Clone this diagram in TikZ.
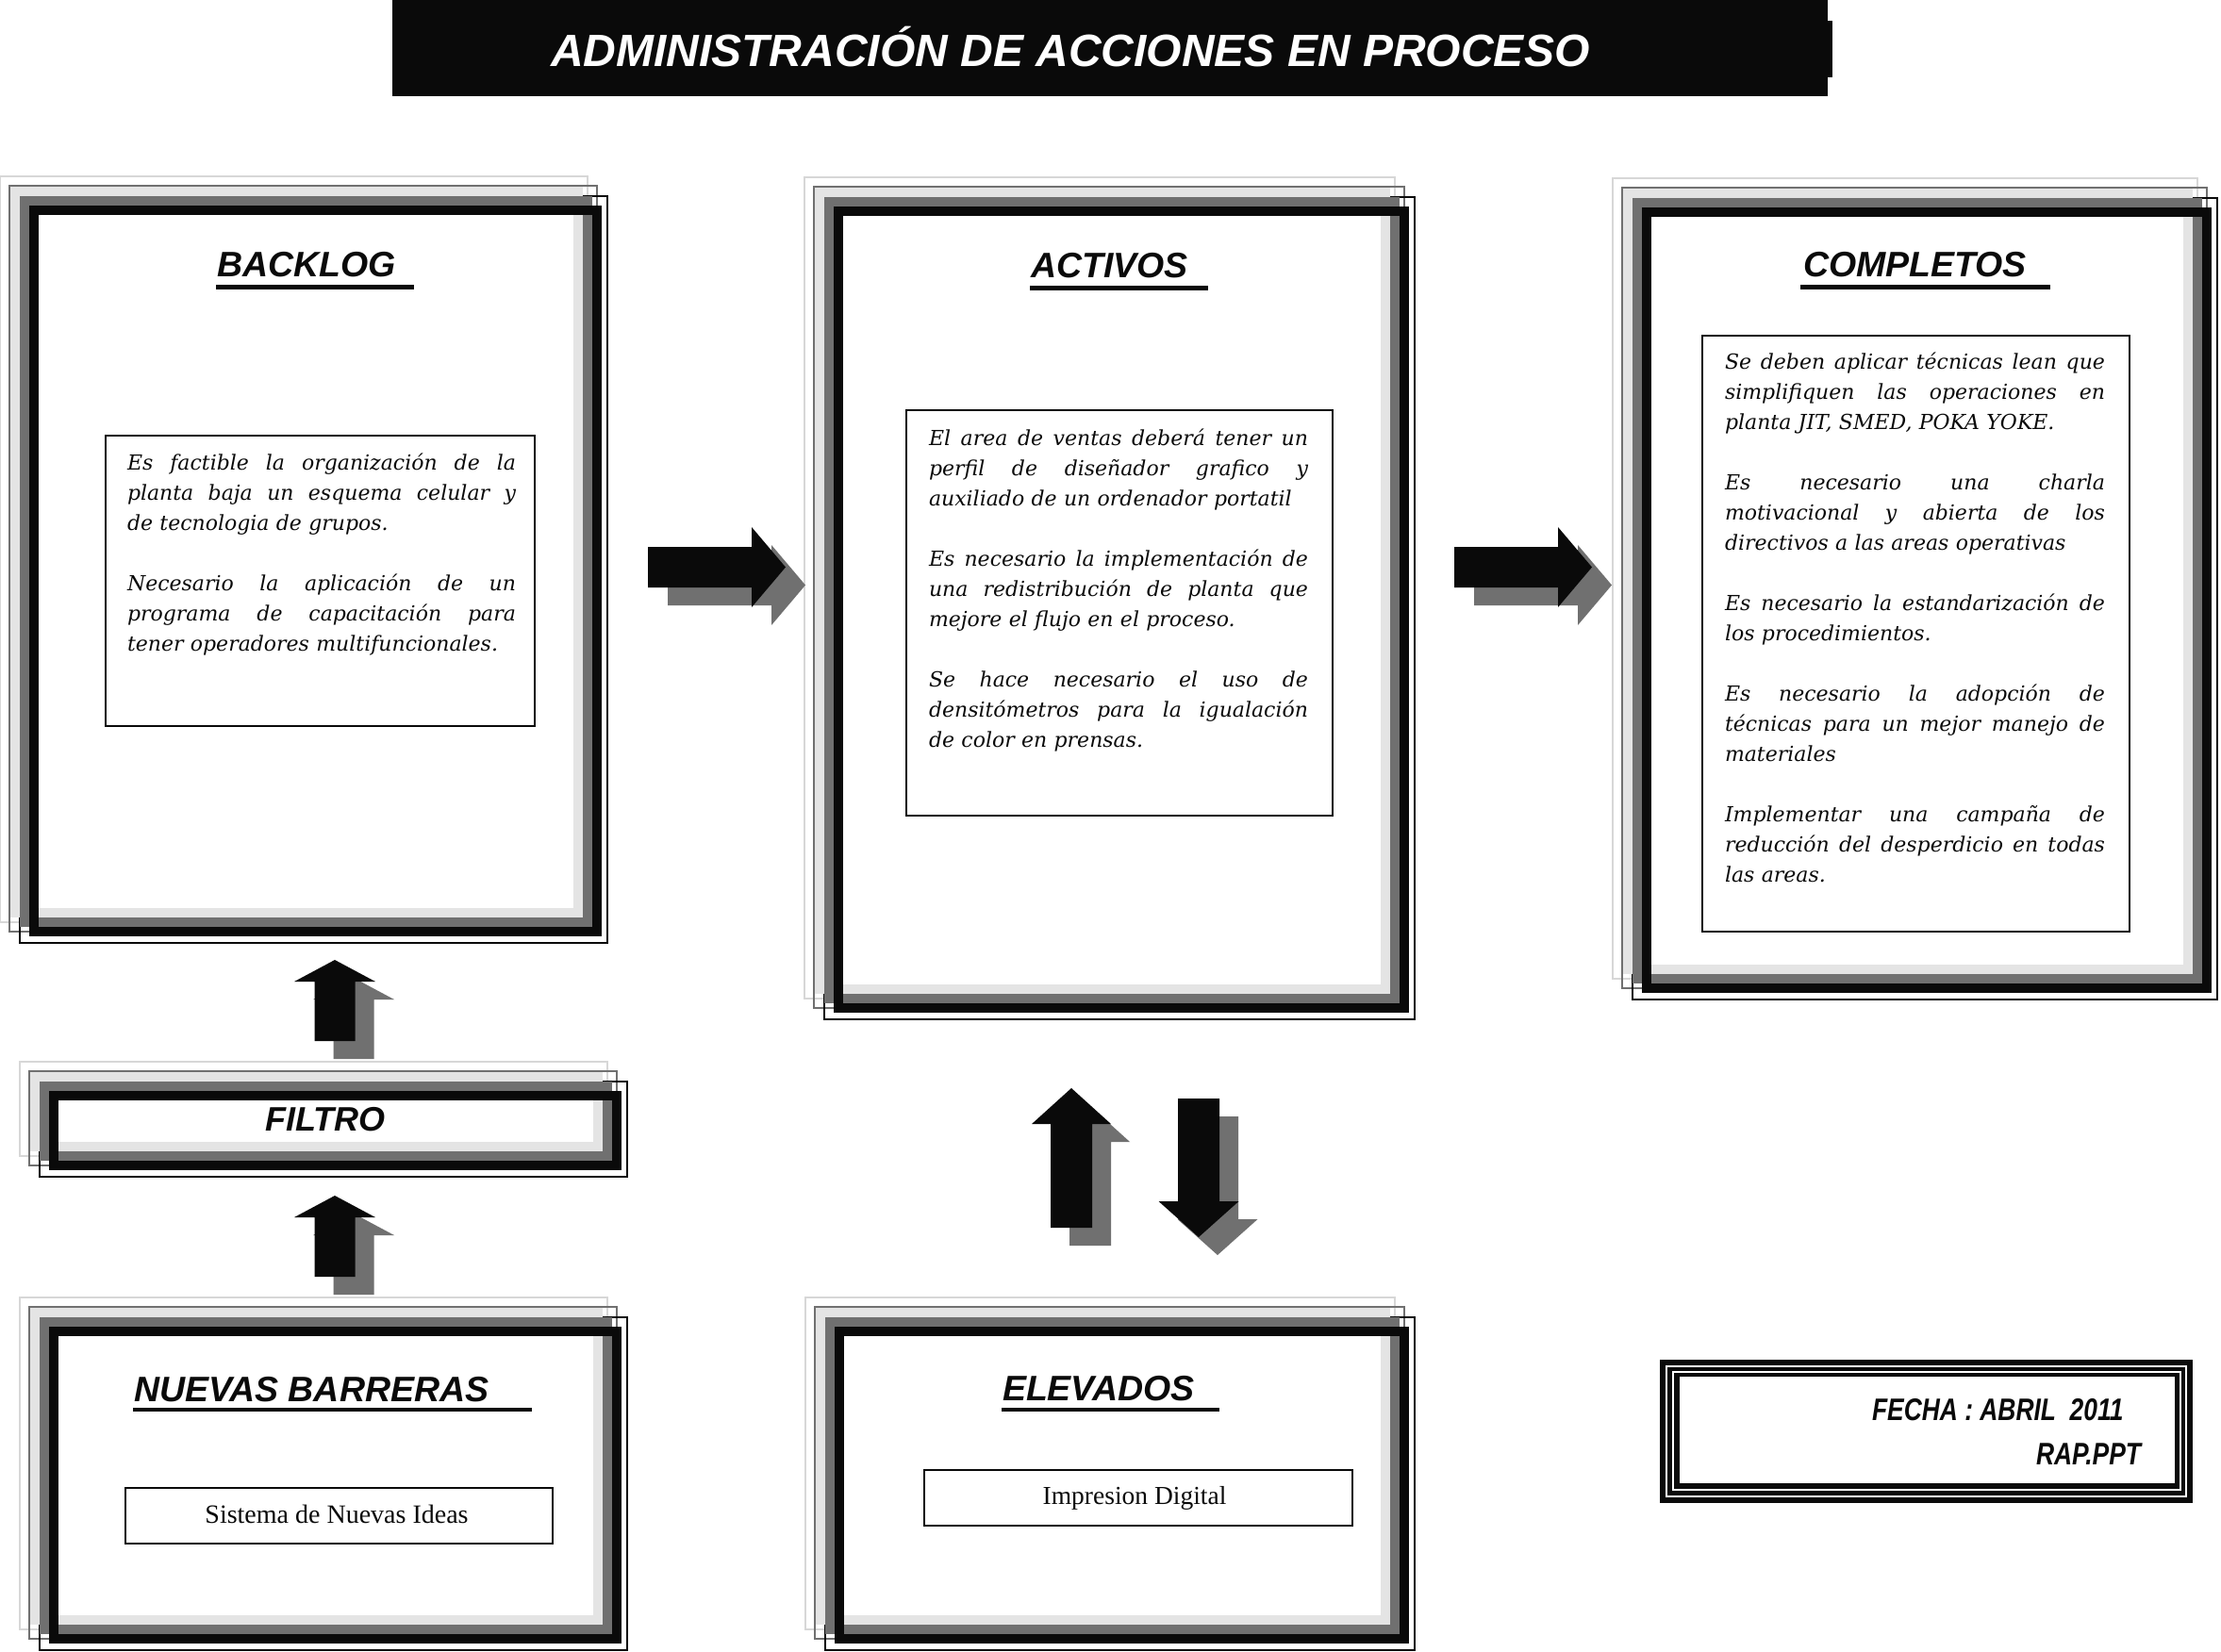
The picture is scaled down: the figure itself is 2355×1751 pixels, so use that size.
\documentclass[tikz,border=0pt]{standalone}
\usepackage{fontspec}
\setmainfont{Liberation Sans}
\newfontfamily\hdfont{Liberation Sans}
\newfontfamily\bodyfont{DejaVu Serif}
\newfontfamily\plainserif{Liberation Serif}
\newfontfamily\narrowfont[FakeStretch=0.8]{Liberation Sans}
\definecolor{kcol}{RGB}{10,10,10}
\definecolor{gcol}{RGB}{112,112,112}
\definecolor{lgcol}{RGB}{228,228,228}
\definecolor{lgline}{RGB}{215,215,215}

\newlength\jlw
\newcommand\jl[1]{\leavevmode\hbox to \jlw{\spaceskip=0.3em plus 1fil\xspaceskip=0.3em plus 1fil\relax #1}}

% three stacked shadow frames: x y W H (top-left of the back outline)
\newcommand\tripleframe[4]{%
 \begin{scope}[shift={(#1,#2)}]
  \draw[lgline, line width=1.5pt] (0,0) rectangle ({#3},{#4});
  \draw[gcol, line width=1.5pt] (10,10) rectangle ({#3+10},{#4+10});
  \draw[kcol, line width=2pt] (21,21) rectangle ({#3+21},{#4+22});
  \draw[lgcol, line width=10pt] (16,16) rectangle ({#3-10},{#4-10});
  \draw[gcol, line width=10pt] (26,26) rectangle ({#3},{#4});
  \draw[kcol, line width=10pt] (36,36) rectangle ({#3+10},{#4+10});
 \end{scope}}

% horizontal block arrow with shadow: x, top of shaft
\newcommand\hblock[2]{%
  \fill[gcol] ({#1+21},{#2+19}) -- ++(110,0) -- ++(0,-21) -- ++(36,42.5) -- ++(-36,42.5) -- ++(0,-21) -- ++(-110,0) -- cycle;
  \fill[kcol] (#1,#2) -- ++(110,0) -- ++(0,-21) -- ++(36,42.5) -- ++(-36,42.5) -- ++(0,-21) -- ++(-110,0) -- cycle;}

% vertical block arrow with shadow: cx, tip y, head base y, head half width, shaft half width, shaft end y
\newcommand\vblock[6]{%
  \fill[gcol, shift={(20,19)}] (#1,#2) -- ({#1+#4},#3) -- ({#1+#5},#3) -- ({#1+#5},#6) -- ({#1-#5},#6) -- ({#1-#5},#3) -- ({#1-#4},#3) -- cycle;
  \fill[kcol] (#1,#2) -- ({#1+#4},#3) -- ({#1+#5},#3) -- ({#1+#5},#6) -- ({#1-#5},#6) -- ({#1-#5},#3) -- ({#1-#4},#3) -- cycle;}

\tikzset{
  every node/.style={inner sep=0pt, outer sep=0pt},
  headtxt/.style={font=\hdfont\fontsize{37.5}{40}\selectfont\bfseries\itshape, text=kcol, anchor=base west},
  bodytxt/.style={font=\bodyfont\fontsize{22}{32}\selectfont\itshape, text=kcol, align=left, anchor=base west},
  innerbox/.style={draw=kcol, line width=2pt, anchor=north west},
  plaintxt/.style={font=\plainserif\fontsize{27.5}{30}\selectfont, text=kcol, anchor=base},
  uline/.style={draw=kcol, line width=5pt},
  fechatxt/.style={font=\narrowfont\fontsize{33}{36}\selectfont\bfseries\itshape, text=kcol},
}

\begin{document}
\begin{tikzpicture}[x=1pt,y=-1pt]
\useasboundingbox (0,0) rectangle (2355,1751);
\fill[white] (0,0) rectangle (2355,1751);

% title bar
\node[fill=kcol, anchor=north west, minimum width=1522pt, minimum height=102pt] (titlebar) at (416,0) {};
\fill[kcol] (1937,22) rectangle (1943,82);
\node[font=\hdfont\fontsize{48}{52}\selectfont\bfseries\itshape, text=white, anchor=base west] (title) at (584,70) {ADMINISTRACIÓN DE ACCIONES EN PROCESO};

% frames
\tripleframe{0}{187}{623}{791}
\tripleframe{853}{188}{626}{871}
\tripleframe{1710}{189}{620}{849}
\tripleframe{21}{1126}{623}{100}
\tripleframe{21}{1376}{623}{352}
\tripleframe{854}{1376}{625}{352}

% headings
\node[headtxt] (bl-title) at (230,293) {BACKLOG};
\draw[uline] (229,304) -- (439,304);
\node[headtxt] (ac-title) at (1093,294) {ACTIVOS};
\draw[uline] (1092,305) -- (1281,305);
\node[headtxt] (co-title) at (1912,293) {COMPLETOS};
\draw[uline] (1909,304) -- (2174,304);
\node[headtxt, font=\hdfont\fontsize{36}{38}\selectfont\bfseries\itshape, anchor=base] (fi-title) at (345,1199) {FILTRO};
\node[headtxt] (nb-title) at (142,1486) {NUEVAS BARRERAS};
\draw[uline, line width=4pt] (141,1495) -- (564,1495);
\node[headtxt] (el-title) at (1063,1485) {ELEVADOS};
\draw[uline, line width=4pt] (1062,1495) -- (1293,1495);

% inner boxes
\node[innerbox, minimum width=455pt, minimum height=308pt] (bl-box) at (112,462) {};
\node[innerbox, minimum width=452pt, minimum height=430pt] (ac-box) at (961,435) {};
\node[innerbox, minimum width=453pt, minimum height=632pt] (co-box) at (1805,356) {};
\node[innerbox, minimum width=453pt, minimum height=59pt] (nb-box) at (133,1578) {};
\node[innerbox, minimum width=454pt, minimum height=59pt] (el-box) at (980,1559) {};

% texts
\node[bodytxt, text width=412pt] (bl-text) at (135,498) {\setlength\jlw{412pt}%
\jl{Es factible la organización de la}\\
\jl{planta baja un esquema celular y}\\
de tecnologia de grupos.\\[32pt]
\jl{Necesario la aplicación de un}\\
\jl{programa de capacitación para}\\
tener operadores multifuncionales.};

\node[bodytxt, text width=402pt] (ac-text) at (985,472) {\setlength\jlw{402pt}%
\jl{El area de ventas deberá tener un}\\
\jl{perfil de diseñador grafico y}\\
auxiliado de un ordenador portatil\\[32pt]
\jl{Es necesario la implementación de}\\
\jl{una redistribución de planta que}\\
mejore el flujo en el proceso.\\[32pt]
\jl{Se hace necesario el uso de}\\
\jl{densitómetros para la igualación}\\
de color en prensas.};

\node[bodytxt, text width=403pt] (co-text) at (1829,391) {\setlength\jlw{403pt}%
\jl{Se deben aplicar técnicas lean que}\\
\jl{simplifiquen las operaciones en}\\
planta JIT, SMED, POKA YOKE.\\[32pt]
\jl{Es necesario una charla}\\
\jl{motivacional y abierta de los}\\
directivos a las areas operativas\\[32pt]
\jl{Es necesario la estandarización de}\\
los procedimientos.\\[32pt]
\jl{Es necesario la adopción de}\\
\jl{técnicas para un mejor manejo de}\\
materiales\\[32pt]
\jl{Implementar una campaña de}\\
\jl{reducción del desperdicio en todas}\\
las areas.};

\node[plaintxt, font=\plainserif\fontsize{28}{30}\selectfont] (nb-text) at (357,1615) {Sistema de Nuevas Ideas};
\node[plaintxt] (el-text) at (1203,1595) {Impresion Digital};

% arrows
\hblock{687}{580}
\hblock{1542}{580}
\vblock{355}{1018}{1041}{43}{21.5}{1104}
\vblock{355}{1268}{1291}{43}{21.5}{1354}
\vblock{1136}{1154}{1192}{42}{22}{1302}
\vblock{1271}{1312}{1274}{42.5}{22}{1165}

% date box
\node[fill=kcol, anchor=north west, minimum width=565pt, minimum height=152pt] (fe-box) at (1760,1442) {};
\draw[white, line width=2pt] (1767,1449) rectangle (2318,1587);
\draw[white, line width=2pt] (1774,1455) rectangle (2312,1580);
\fill[white] (1781,1460) rectangle (2306,1573);
\node[fechatxt, anchor=base west] (fe-date) at (1985,1506) {FECHA : ABRIL\ \ 2011};
\node[fechatxt, anchor=base east] (fe-file) at (2270,1553) {RAP.PPT};
\end{tikzpicture}
\end{document}
